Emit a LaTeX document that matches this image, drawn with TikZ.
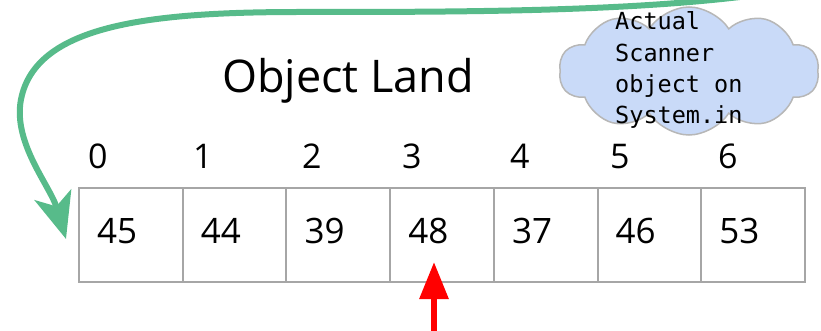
\documentclass[tikz,border=0pt]{standalone}
\usepackage{fontspec}
\setmainfont{Open Sans}
\newfontfamily\cloudmono{DejaVu Sans Mono}
\usetikzlibrary{arrows.meta,shapes.symbols}
\definecolor{arrowgreen}{HTML}{57BB8A}
\definecolor{cloudfill}{HTML}{C9DAF8}
\definecolor{cloudline}{HTML}{B7B7B7}
\definecolor{cellline}{HTML}{A6A6A6}
\tikzset{
  cellbox/.style={draw=cellline, line width=2pt, minimum width=103.7pt, minimum height=94pt, inner sep=0pt, outer sep=0pt},
  numtext/.style={anchor=base west, inner sep=0pt, font=\fontsize{35}{40}\selectfont},
  idxtext/.style={anchor=base west, inner sep=0pt, font=\fontsize{34}{40}\selectfont},
  monoline/.style={anchor=base west, inner sep=0pt, font=\cloudmono\fontsize{23.5}{28}\selectfont},
}
\begin{document}
\begin{tikzpicture}[x=1pt,y=-1pt]
\useasboundingbox (0,0) rectangle (821,331);
% title
\node[anchor=base west, inner sep=0pt, font=\fontsize{45}{50}\selectfont] (title) at (222,93) {Object Land};
% cloud
\node[cloud, cloud ignores aspect, cloud puffs=10, cloud puff arc=115, draw=cloudline, fill=cloudfill, line width=1.5pt, minimum width=260pt, minimum height=128pt, inner sep=0pt] (cloud) at (689,71) {};
\node[monoline] (c1) at (615,30) {Actual};
\node[monoline] (c2) at (615,62) {Scanner};
\node[monoline] (c3) at (615,93) {object on};
\node[monoline] (c4) at (615,124) {System.in};
% cells
\foreach \i/\v/\ix in {0/45/88,1/44/193,2/39/302,3/48/402,4/37/510,5/46/610,6/53/718} {
  \node[cellbox, anchor=north west] (cell\i) at ({79+103.7*\i},188) {};
  \node[numtext] (num\i) at ({97+103.7*\i},243) {\v};
  \node[idxtext] (idx\i) at (\ix,168) {\i};
}
% green arrow
\coordinate (gstart) at (748,-4);
\coordinate (gtip) at (66,239);
\draw[arrowgreen, line width=6pt, -{Stealth[length=46pt,width=38pt,inset=12pt]}]
  (gstart) .. controls (620,12) and (450,12) .. (300,12)
  .. controls (150,12) and (40,25) .. (22,95)
  .. controls (10,140) and (50,185) .. (gtip);
% red arrow
\coordinate (rbase) at (434,331);
\coordinate (rtip) at (434,262);
\draw[red, line width=6pt, -{Triangle[length=37pt,width=28pt]}] (rbase) -- (rtip);
\end{tikzpicture}
\end{document}
